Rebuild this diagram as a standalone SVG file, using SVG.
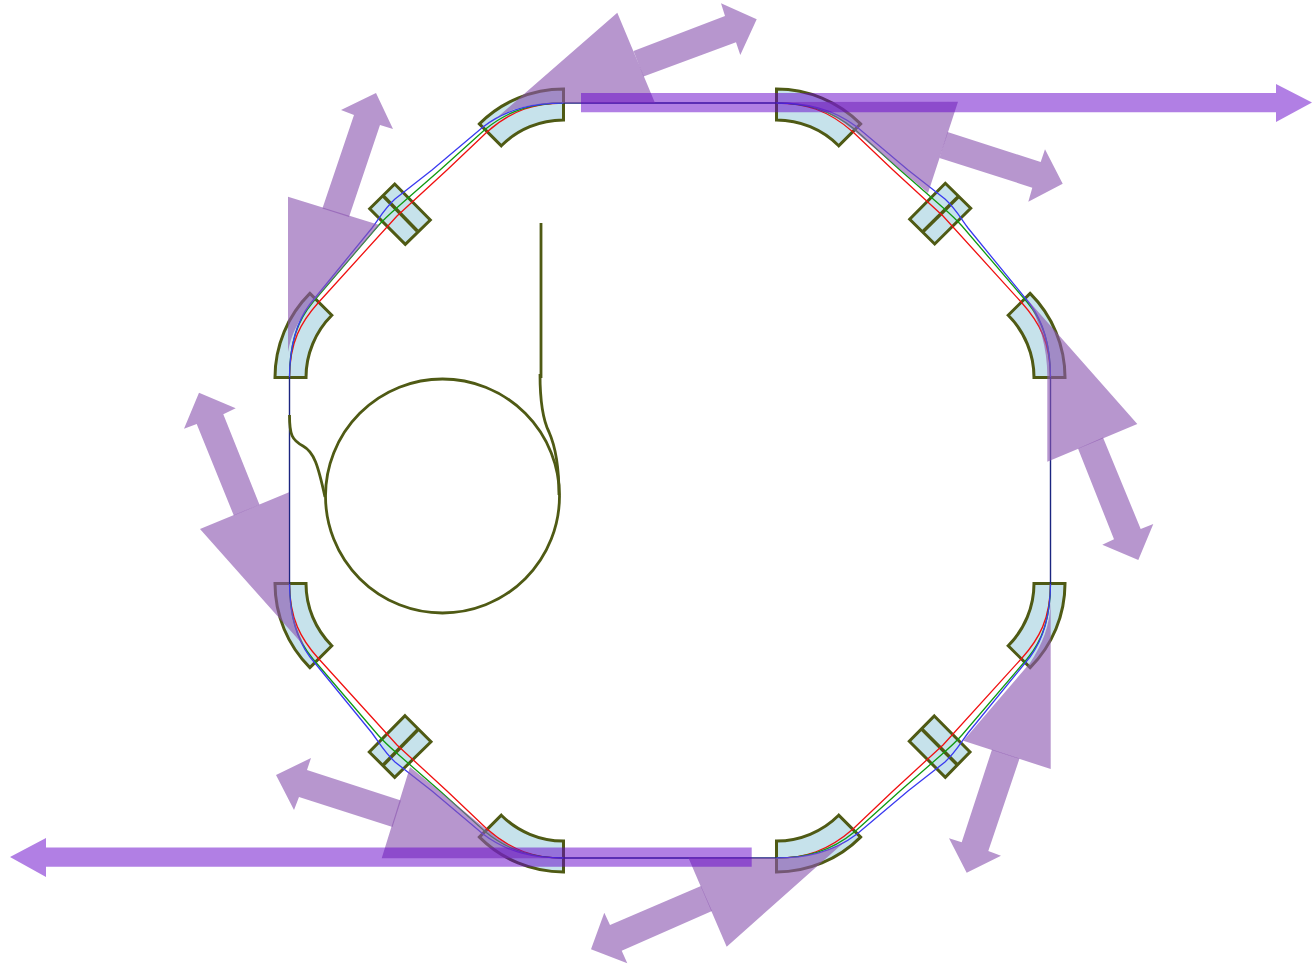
<svg xmlns="http://www.w3.org/2000/svg" width="1312" height="965" viewBox="0 0 1312 965">
<style>
.mag{fill:#c6e2eb;stroke:#4f5a14;stroke-width:3;stroke-linejoin:miter}
.bar{fill:none;stroke:#4f5a14;stroke-width:3.5}
.fib{fill:none;stroke:#4f5a14;stroke-width:2.8}
.rad{fill:#8a55b0;fill-opacity:.62;stroke:none}
.long{fill:#6300c9;fill-opacity:.5;stroke:none}
.b{fill:none;stroke:#3a3af0;stroke-width:1.3}
.g{fill:none;stroke:#109a10;stroke-width:1.3}
.r{fill:none;stroke:#f01010;stroke-width:1.3}
.n{fill:none;stroke:#1b2580;stroke-width:1.4}
</style>
<defs>
<g id="sector">
<path class="r" d="M563.5 103C535 103 512 110 487 132L447 170L397 216L318 303C301 322 289.5 342 289.5 378"/>
<path class="g" d="M563.5 103C535 103 510 109 485 129.5L440 170L400 205C392 212 385 218 378 226L313 302C298 320 289.5 342 289.5 378"/>
<path class="b" d="M563.5 103C535 103 508 108 483 127L432 170L395 199C385 208 380 217 372 228L310 304C298 320 289.5 342 289.5 378"/>
</g>
</defs>
<g id="dipole-top-left"><path class="mag" d="M563.5 89A119 119 0 0 0 479.4 123.9L501.3 145.8A88 88 0 0 1 563.5 120Z"/></g>
<g id="dipole-top-right"><path class="mag" d="M776.5 89A119 119 0 0 1 860.6 123.9L838.7 145.8A88 88 0 0 0 776.5 120Z"/></g>
<g id="dipole-left-upper"><path class="mag" d="M275 377.5A119 119 0 0 1 309.9 293.4L331.8 315.3A88 88 0 0 0 306 377.5Z"/></g>
<g id="dipole-left-lower"><path class="mag" d="M275 583.5A119 119 0 0 0 309.9 667.6L331.8 645.7A88 88 0 0 1 306 583.5Z"/></g>
<g id="dipole-right-upper"><path class="mag" d="M1065 377.5A119 119 0 0 0 1030.1 293.4L1008.2 315.3A88 88 0 0 1 1034 377.5Z"/></g>
<g id="dipole-right-lower"><path class="mag" d="M1065 583.5A119 119 0 0 1 1030.1 667.6L1008.2 645.7A88 88 0 0 0 1034 583.5Z"/></g>
<g id="dipole-bottom-left"><path class="mag" d="M563.5 872A119 119 0 0 1 479.4 837.1L501.3 815.2A88 88 0 0 0 563.5 841Z"/></g>
<g id="dipole-bottom-right"><path class="mag" d="M776.5 872A119 119 0 0 0 860.6 837.1L838.7 815.2A88 88 0 0 1 776.5 841Z"/></g>
<g id="quad-top-left"><path class="mag" d="M394.7 184L430.3 220L405.3 244.3L369.7 208.7Z"/><path class="bar" d="M383.3 196L417.3 231"/></g>
<g id="quad-top-right"><path class="mag" d="M945.3 183.3L970.7 208.3L934.7 244L909.7 219.3Z"/><path class="bar" d="M958.3 196.7L923.3 231.3"/></g>
<g id="quad-bottom-right"><path class="mag" d="M934.3 716L970 752L945.3 777.3L909.3 741.3Z"/><path class="bar" d="M921.7 729L957.3 764.7"/></g>
<g id="quad-bottom-left"><path class="mag" d="M405 715.7L431 741.7L394.7 777.3L369.3 752Z"/><path class="bar" d="M418.3 729.3L383.3 765"/></g>
<g id="connectors">
<use href="#sector"/>
<use href="#sector" transform="matrix(-1 0 0 1 1340 0)"/>
<use href="#sector" transform="matrix(1 0 0 -1 0 961)"/>
<use href="#sector" transform="matrix(-1 0 0 -1 1340 961)"/>
<path class="n" d="M563.5 103H776.5M563.5 858H776.5M289.5 377V584M1050.5 377V584"/>
</g>
<g id="fiber">
<path class="fib" d="M541 223V378"/>
<path class="fib" d="M540 374C540 400 543 420 549 432C557 450 559 470 559 495"/>
<circle class="fib" cx="442.5" cy="496" r="117"/>
<path class="fib" d="M289.5 415C289.5 435 292 440 303 446C314 452 318 465 325 497"/>
</g>
<g id="rad-top-left"><path class="rad" d="M617.3 12.7L655 103H563.5C535 103 510 107 493 121Z"/><path class="rad" d="M633.5 51L725 16L721 3.3L756.7 19.3L740.3 55L736 42.3L643.5 76.5Z"/></g>
<g id="rad-top-right"><path class="rad" d="M958 101.7L930 187L928 193L853 130C830 110 805 103 776.5 102Z"/><path class="rad" d="M947.5 132L1040.7 162L1045 149.3L1062.7 183.7L1028.3 201.7L1032.3 187.7L939.5 158Z"/></g>
<g id="rad-right-upper"><path class="rad" d="M1137.3 424L1047.3 461.7V375C1047.3 350 1040 320 1026 298Z"/><path class="rad" d="M1078 448.5L1103 437.5L1140.7 529L1153.3 524L1138.3 560L1102.3 544.7L1114 539.3Z"/></g>
<g id="rad-right-lower"><path class="rad" d="M1050.7 769L963.3 740.7L1030 663C1042 645 1050.5 625 1050.7 600Z"/><path class="rad" d="M992 749.5L1019.5 758.5L988.3 851L1001 855.7L966.7 872.7L949 838.3L961.7 842.3Z"/></g>
<g id="rad-bottom-right"><path class="rad" d="M688.3 857.5L726.7 946.7L846.7 840C830 852 805 857.5 776.5 858Z"/><path class="rad" d="M701 886L712 911L621.7 950.7L627.3 963.3L591 949.3L604.3 912.7L610 925Z"/></g>
<g id="rad-bottom-left"><path class="rad" d="M381.7 858.3L410 767L487 830C510 850 535 858 563.5 858.3Z"/><path class="rad" d="M401 800.5L392.5 827L299 797L294 810L276 775L311 758L307 770Z"/></g>
<g id="rad-left-lower"><path class="rad" d="M200 529L289 492.3V590C290 610 297 630 305 647Z"/><path class="rad" d="M233.8 515.5L259.5 504.8L223.3 414.3L235.7 408.3L199 392.7L184 428.7L196.7 424Z"/></g>
<g id="rad-left-upper"><path class="rad" d="M288 196.7L379.3 225L313 302C298 320 291 335 288 352Z"/><path class="rad" d="M322.4 208.5L349 217L380 125L393 129L376 93L341 110L354 115Z"/></g>
<g id="beam-top"><path class="long" d="M581 93H1276V84L1312 102.5L1276 122V112.3H581Z"/></g>
<g id="beam-bottom"><path class="long" d="M751.7 847.5H46V838L10 857L46 877V866.8H751.7Z"/></g>
</svg>
